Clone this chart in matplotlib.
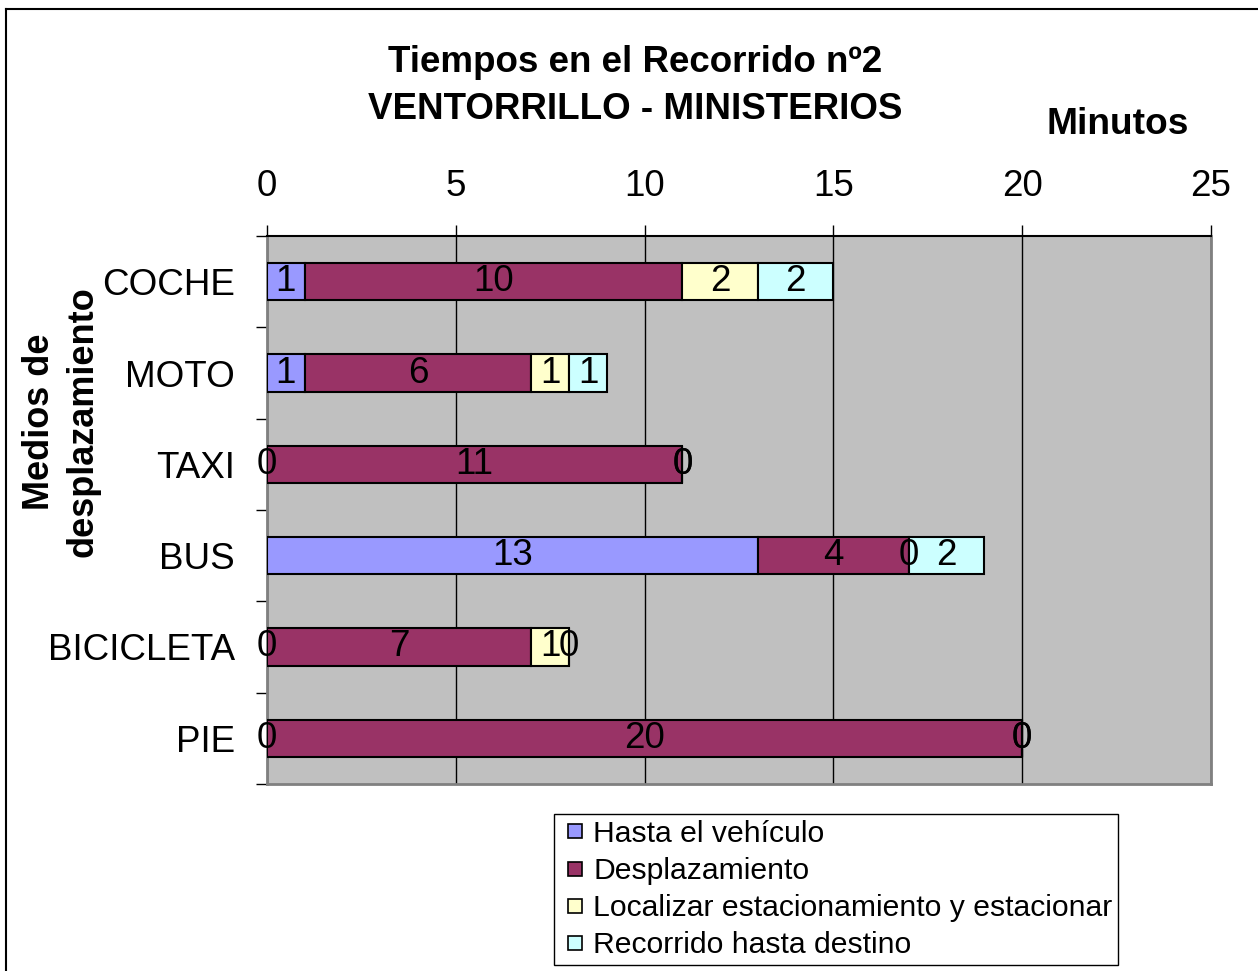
import numpy as np
import matplotlib.pyplot as plt
from matplotlib.lines import Line2D

plt.rcParams['font.family'] = ['Liberation Sans', 'DejaVu Sans']

## datos
medios = ['COCHE', 'MOTO', 'TAXI', 'BUS', 'BICICLETA', 'PIE']
hasta_vehiculo = [1, 1, 0, 13, 0, 0]
desplazamiento = [10, 6, 11, 4, 7, 20]
estacionar = [2, 1, 0, 0, 1, 0]
recorrido_destino = [2, 1, 0, 2, 0, 0]

series = ['Hasta el vehículo', 'Desplazamiento',
          'Localizar estacionamiento y estacionar', 'Recorrido hasta destino']
colores = ['#9999FF', '#993366', '#FFFFCC', '#CCFFFF']

fig = plt.figure(figsize=(12.58, 9.71), dpi=100)
W, H = 1258, 971
ax = fig.add_axes([267/W, 1-784/H, (1211-267)/W, (784-236)/H])
ax.set_facecolor('#C0C0C0')

y = np.arange(len(medios))
left = np.zeros(len(medios))
handles = []
for datos, nombre, col in zip([hasta_vehiculo, desplazamiento, estacionar, recorrido_destino],
                              series, colores):
    bars = ax.barh(y, datos, left=left, height=0.41, color=col, edgecolor='black',
                   linewidth=1.5, zorder=3)
    etiquetas = ax.bar_label(bars, labels=[str(v) for v in datos], label_type='center',
                             fontsize=26.5)
    for t in etiquetas:
        t.set_clip_on(False)
        t.set_zorder(5)
    left = left + np.array(datos)
    handles.append(Line2D([], [], marker='s', linestyle='none', markersize=10,
                          markerfacecolor=col, markeredgecolor='black', markeredgewidth=1.2,
                          label=nombre))

ax.set_xlim(0, 25)
ax.set_ylim(len(medios)-0.5, -0.5)
ax.set_xticks([0, 5, 10, 15, 20, 25])
ax.xaxis.tick_top()
ax.tick_params(axis='x', which='major', length=8, width=1, pad=15, labelsize=26.5, direction='out')
ax.grid(axis='x', color='black', linewidth=1, zorder=1)

ax.set_yticks(y)
ax.set_yticklabels(medios)
ax.tick_params(axis='y', which='major', length=0, pad=23, labelsize=26.5)
ax.set_yticks(np.arange(len(medios)+1) - 0.5, minor=True)
ax.tick_params(axis='y', which='minor', length=8, width=1, direction='out')

for s in ['left', 'right', 'bottom']:
    ax.spines[s].set_color('#808080')
    ax.spines[s].set_linewidth(2)
ax.spines['top'].set_color('black')
ax.spines['top'].set_linewidth(1.5)

## textos
fig.text(635/W, 1-63/H, 'Tiempos en el Recorrido nº2', ha='center', va='center',
         fontsize=26.5, fontweight='bold')
fig.text(635/W, 1-109/H, 'VENTORRILLO - MINISTERIOS', ha='center', va='center',
         fontsize=26.5, fontweight='bold')
fig.text(1118/W, 1-124/H, 'Minutos', ha='center', va='center', fontsize=26.7, fontweight='bold')
fig.text(61/W, 1-422/H, 'Medios de\ndesplazamiento', ha='center', va='center',
         rotation=90, fontsize=26, fontweight='bold', multialignment='center', linespacing=1.3)

leg = fig.legend(handles=handles, loc='upper left', bbox_to_anchor=(554/W, 1-814/H),
                 bbox_transform=fig.transFigure,
                 fontsize=21.7, frameon=True, fancybox=False, framealpha=1, edgecolor='black',
                 handlelength=1.0, handletextpad=0.1, labelspacing=0.3,
                 borderpad=0.2, borderaxespad=0)
leg.get_frame().set_linewidth(1)

## borde exterior
fig.add_artist(Line2D([6/W, 1], [1-9/H, 1-9/H], color='black', linewidth=1.5,
                      transform=fig.transFigure))
fig.add_artist(Line2D([6/W, 6/W], [0, 1-9/H], color='black', linewidth=1.5,
                      transform=fig.transFigure))

fig.savefig('out.png', dpi=100)
